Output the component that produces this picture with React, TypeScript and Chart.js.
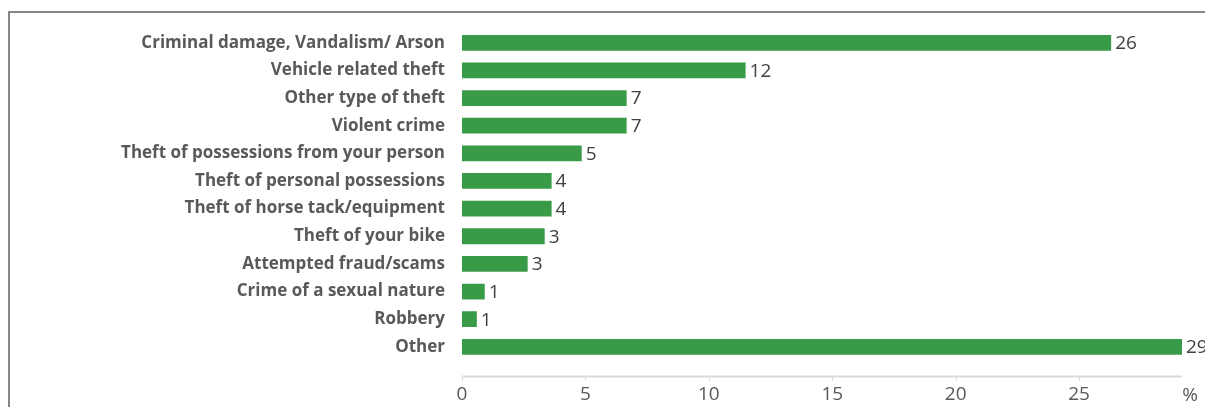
import React, { useEffect, useRef } from 'react';
import { Chart, registerables } from 'chart.js';

Chart.register(...registerables);

const categories = [
  'Criminal damage, Vandalism/ Arson',
  'Vehicle related theft',
  'Other type of theft',
  'Violent crime',
  'Theft of possessions from your person',
  'Theft of personal possessions',
  'Theft of horse tack/equipment',
  'Theft of your bike',
  'Attempted fraud/scams',
  'Crime of a sexual nature',
  'Robbery',
  'Other',
];
const values = [26.3, 11.49, 6.67, 6.67, 4.85, 3.63, 3.63, 3.35, 2.66, 0.92, 0.6, 29.17];
const valueLabels = ['26', '12', '7', '7', '5', '4', '4', '3', '3', '1', '1', '29'];
const xTicks = [0, 5, 10, 15, 20, 25];
const xMax = 29.17;
const unitLabel = '%';

const FONT = "'Open Sans', 'DejaVu Sans', sans-serif";

export default function App() {
  const ref = useRef<HTMLCanvasElement | null>(null);

  useEffect(() => {
    const canvas = ref.current;
    if (!canvas) return;

    const overlay = {
      id: 'overlay',
      afterDatasetsDraw(chart: any) {
        const ctx = chart.ctx;
        const xs = chart.scales.x;
        const area = chart.chartArea;
        ctx.save();
        const ly = area.bottom + 16;
        ctx.strokeStyle = '#d9d9d9';
        ctx.lineWidth = 2;
        ctx.beginPath();
        ctx.moveTo(area.left, ly);
        ctx.lineTo(area.right, ly);
        ctx.stroke();
        ctx.lineWidth = 1;
        xTicks.forEach((v) => {
          const px = Math.round(xs.getPixelForValue(v)) + 0.5;
          ctx.beginPath();
          ctx.moveTo(px, ly);
          ctx.lineTo(px, ly + 4);
          ctx.stroke();
        });
        const meta = chart.getDatasetMeta(0);
        ctx.fillStyle = '#404040';
        ctx.font = `19px ${FONT}`;
        ctx.textAlign = 'left';
        ctx.textBaseline = 'middle';
        meta.data.forEach((bar: any, i: number) => {
          ctx.fillText(valueLabels[i], bar.x + 4, bar.y + 1);
        });
        ctx.fillStyle = '#595959';
        ctx.textAlign = 'center';
        ctx.fillText(unitLabel, area.right + 8, area.bottom + 35);
        ctx.restore();
      },
    };

    const chart = new Chart(canvas, {
      type: 'bar',
      data: {
        labels: categories,
        datasets: [
          {
            data: values,
            backgroundColor: '#399a48',
            borderWidth: 0,
            barPercentage: 0.57,
            categoryPercentage: 1,
          },
        ],
      },
      options: {
        indexAxis: 'y',
        responsive: false,
        animation: false,
        events: [],
        layout: { padding: { top: 21, right: 46, left: 0, bottom: 0 } },
        plugins: { legend: { display: false }, tooltip: { enabled: false } },
        scales: {
          x: {
            min: 0,
            max: xMax,
            grid: { display: false, drawTicks: false },
            border: { display: false },
            afterBuildTicks: (scale: any) => {
              scale.ticks = xTicks.map((v) => ({ value: v }));
            },
            afterFit: (scale: any) => {
              scale.height = 67.4;
            },
            ticks: {
              padding: 23,
              maxRotation: 0,
              autoSkip: false,
              color: '#595959',
              font: { family: FONT, size: 19 },
              callback: (v: any) => String(v),
            },
          },
          y: {
            grid: { display: false, drawTicks: false },
            border: { display: false },
            afterFit: (scale: any) => {
              scale.width = 454;
              scale.paddingTop = 0;
              scale.paddingBottom = 0;
            },
            ticks: {
              padding: 17,
              autoSkip: false,
              color: '#595959',
              font: { family: FONT, size: 17, weight: 'bold' },
            },
          },
        },
      },
      plugins: [overlay],
    });
    return () => chart.destroy();
  }, []);

  return (
    <div
      style={{
        position: 'fixed',
        top: 0,
        left: 0,
        width: 1205,
        height: 407,
        overflow: 'hidden',
      }}
    >
      <div
        style={{
          position: 'absolute',
          top: 11,
          left: 8,
          width: 1300,
          height: 500,
          border: '2px solid #878787',
          boxSizing: 'border-box',
        }}
      />
      <canvas
        ref={ref}
        width={1220}
        height={420}
        style={{ position: 'absolute', top: 8, left: 8, width: 1220, height: 420 }}
      />
    </div>
  );
}
